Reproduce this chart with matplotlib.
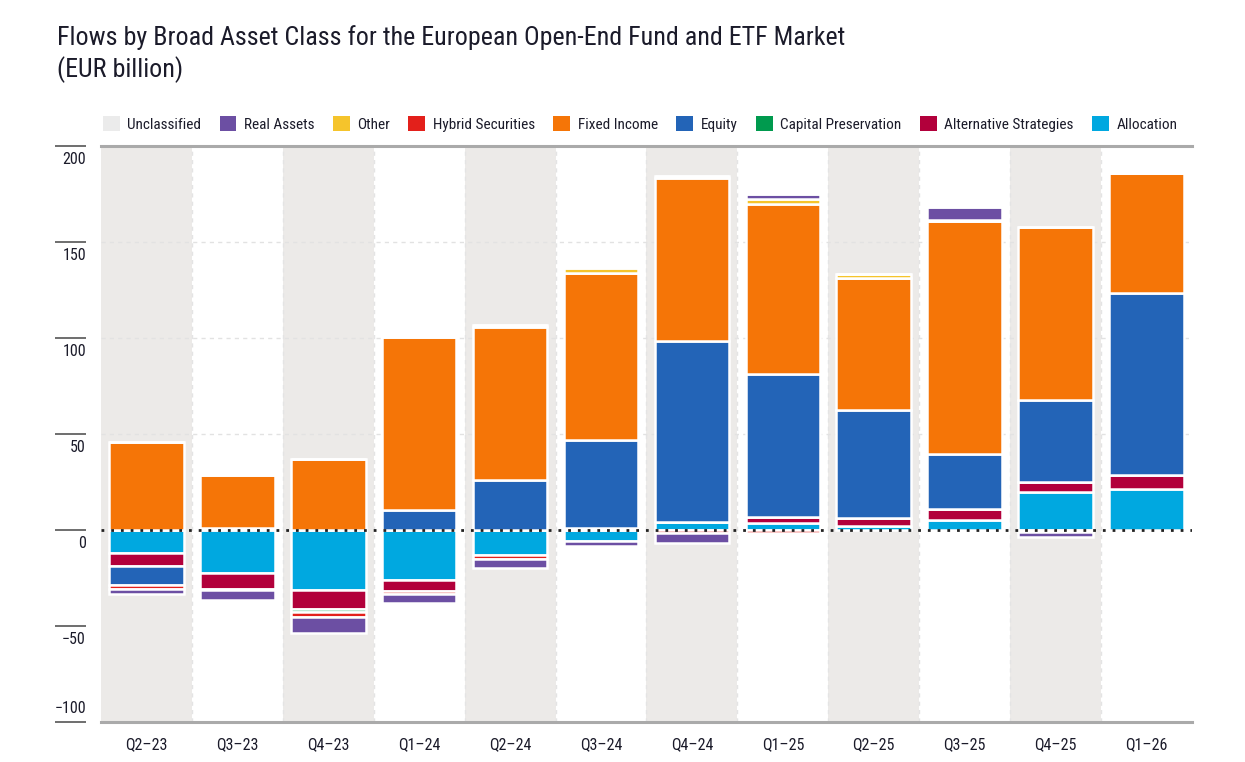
import numpy as np
import matplotlib.pyplot as plt
from matplotlib.patches import Patch
from matplotlib.transforms import ScaledTranslation

plt.rcParams['font.family'] = ['Roboto Condensed', 'Roboto', 'DejaVu Sans']

quarters = ['Q2–23', 'Q3–23', 'Q4–23', 'Q1–24', 'Q2–24', 'Q3–24',
            'Q4–24', 'Q1–25', 'Q2–25', 'Q3–25', 'Q4–25', 'Q1–26']

# EUR billion
allocation   = [-12.2, -22.3, -31.0, -26.0, -13.2, -5.7, 4.2, 3.8, 2.0, 5.2, 19.8, 21.1]
alternative  = [-6.7, -8.2, -10.3, -5.7, 0.0, 0.0, 0.0, 3.0, 4.2, 5.9, 5.0, 7.4]
capital_pres = [0.0, 1.3, -1.5, 0.0, 0.0, 1.3, 0.0, 0.0, 0.0, 0.0, 0.0, 0.0]
equity       = [-9.9, 0.0, 0.0, 10.2, 26.3, 45.6, 94.2, 74.7, 56.5, 28.4, 42.8, 95.0]
fixed_income = [46.0, 27.5, 37.0, 90.3, 79.4, 86.7, 84.7, 88.3, 68.8, 121.3, 90.2, 62.4]
hybrid       = [-1.8, -1.0, -2.3, -1.5, -2.0, 0.0, -1.8, -1.8, 0.0, 0.0, -1.2, 0.0]
other        = [0.0, 0.0, 0.0, 0.0, 1.2, 2.6, 1.2, 2.6, 2.0, 0.7, 0.0, 0.0]
real_assets  = [-2.5, -4.8, -8.7, -4.7, -4.4, -2.5, -5.0, 2.6, 0.0, 6.5, -2.3, 0.0]
unclassified = [0.0] * 12

# stacking order from zero outwards
series = [
    ('Allocation', allocation, '#00A8E0'),
    ('Alternative Strategies', alternative, '#B2003B'),
    ('Capital Preservation', capital_pres, '#009A4E'),
    ('Equity', equity, '#2364B7'),
    ('Fixed Income', fixed_income, '#F57507'),
    ('Hybrid Securities', hybrid, '#E3201B'),
    ('Other', other, '#F5C42C'),
    ('Real Assets', real_assets, '#6C4FA3'),
    ('Unclassified', unclassified, '#EBEBEB'),
]

text_col = '#1B1B2A'
fig = plt.figure(figsize=(12.45, 7.62), dpi=100)
ax = fig.add_axes([0.0811, 0.0525, 0.8763, 0.7559])

x = np.arange(len(quarters))
for i in x:
    if i % 2 == 0:
        ax.axvspan(i - 0.5, i + 0.5, color='#ECEAE8', zorder=0, lw=0)
for i in range(1, len(quarters)):
    ax.axvline(i - 0.5, color='#E4E4E4', lw=1, ls=(0, (3, 3)), zorder=0.5)
for g in [50, 100, 150]:
    ax.axhline(g, color='#E2E2E2', lw=1, ls=(0, (3, 3)), zorder=0.6)

pos_base = np.zeros(len(quarters))
neg_base = np.zeros(len(quarters))
for name, vals, col in series:
    v = np.array(vals)
    bottom = np.where(v >= 0, pos_base, neg_base)
    ax.bar(x, v, width=0.82, bottom=bottom, color=col, edgecolor='white',
           linewidth=1.8, zorder=2)
    pos_base += np.where(v > 0, v, 0)
    neg_base += np.where(v < 0, v, 0)

ax.axhline(0, color='#222222', lw=2, ls=(0, (1, 2.5)), zorder=5)

ax.set_xlim(-0.5, len(quarters) - 0.5)
ax.set_ylim(-100, 200)
ax.set_xticks(x)
ax.set_xticklabels(quarters, fontsize=11.5, color=text_col)
ax.tick_params(axis='x', length=0, pad=11)

ax.set_yticks([-100, -50, 0, 50, 100, 150, 200])
ax.spines['left'].set_position(('outward', 10.8))
ax.spines['left'].set_visible(False)
ax.spines['right'].set_visible(False)
for s in ['top', 'bottom']:
    ax.spines[s].set_color('#AAAAAA')
    ax.spines[s].set_linewidth(2.2)
ax.tick_params(axis='y', length=22.3, width=1.2, color='#555555',
               pad=-22.3, labelsize=11.5, labelcolor=text_col)
down = ScaledTranslation(0, -4.5 / 72, fig.dpi_scale_trans)
up = ScaledTranslation(0, 4 / 72, fig.dpi_scale_trans)
for tick_val, lab in zip(ax.get_yticks(), ax.get_yticklabels()):
    lab.set_horizontalalignment('right')
    if tick_val == -100:
        lab.set_verticalalignment('bottom')
        lab.set_transform(lab.get_transform() + up)
    else:
        lab.set_verticalalignment('top')
        lab.set_transform(lab.get_transform() + down)

fig.text(57 / 1245, 1 - 38 / 762, 'Flows by Broad Asset Class for the European Open-End Fund and ETF Market',
         fontsize=18.7, color=text_col, va='center', ha='left')
fig.text(57 / 1245, 1 - 70 / 762, '(EUR billion)', fontsize=18.7, color=text_col,
         va='center', ha='left')

handles = [Patch(facecolor=col, edgecolor='none', label=name) for name, vals, col in series[::-1]]
fig.legend(handles=handles, loc='center left', bbox_to_anchor=(89 / 1245, 1 - 124 / 762),
           ncol=9, frameon=False, fontsize=11, handlelength=1.1, handleheight=1.1,
           handletextpad=0.5, columnspacing=1.2, labelcolor=text_col)

fig.savefig('out.png', dpi=100)
